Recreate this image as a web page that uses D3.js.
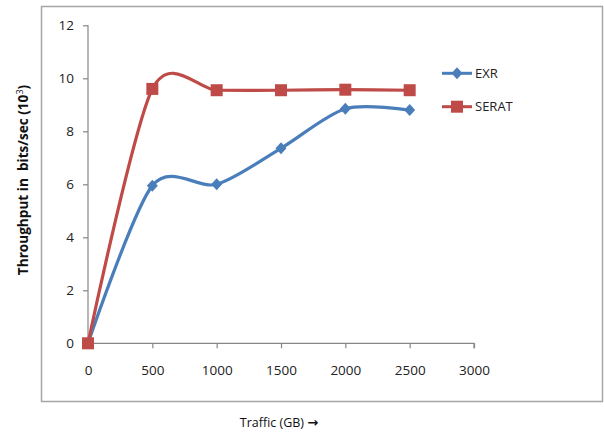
<!DOCTYPE html>
<html>
<head>
<meta charset="utf-8">
<script src="https://cdn.jsdelivr.net/npm/d3@7"></script>
<style>
  body { margin: 0; background: #fff; }
  svg { display: block; font-family: "Open Sans", sans-serif; }
</style>
</head>
<body>
<svg id="chart" width="604" height="436"></svg>
<script>
// Traffic levels (GB) and throughput (bits/sec, ×10³) per protocol
const traffic = [0, 500, 1000, 1500, 2000, 2500];
const exr = [0, 5.95, 6.0, 7.36, 8.85, 8.8];
const serat = [0, 9.6, 9.55, 9.55, 9.57, 9.55];
const xTicks = [0, 500, 1000, 1500, 2000, 2500, 3000];
const yTicks = [0, 2, 4, 6, 8, 10, 12];
const seriesNames = ["EXR", "SERAT"];

const svg = d3.select("#chart");
const blue = "#4a7ebb", red = "#be4b48";
const font = "'Open Sans', sans-serif";

// outer chart frame
svg.append("rect")
  .attr("x", 41.5).attr("y", 6.5).attr("width", 561).attr("height", 395)
  .attr("fill", "none").attr("stroke", "#a6a6a6").attr("stroke-width", 1.5);

const x = d3.scaleLinear().domain([0, 3000]).range([88, 474]);
const y = d3.scaleLinear().domain([0, 12]).range([343.3, 25.3]);

// y axis
const yAxis = svg.append("g").attr("transform", "translate(88,0)")
  .call(d3.axisLeft(y).tickValues(yTicks).tickFormat(d3.format("d")).tickSize(5).tickPadding(9));
// x axis
const xAxis = svg.append("g").attr("transform", `translate(0,${y(0)})`)
  .call(d3.axisBottom(x).tickValues(xTicks).tickFormat(d3.format("d")).tickSize(5).tickPadding(17));

[yAxis, xAxis].forEach(g => {
  g.select(".domain").attr("stroke", "#868686").attr("stroke-width", 1.2);
  g.selectAll(".tick line").attr("stroke", "#868686").attr("stroke-width", 1.2);
  g.selectAll(".tick text").attr("fill", "#222").attr("font-size", 13.5)
    .attr("font-family", font);
});
xAxis.select(".domain").attr("d", `M${x(0)},0H${x(3000)}V5`);
yAxis.select(".domain").attr("d", `M0,${y(12)}V${y(0)}`);

const line = d3.line()
  .x((d, i) => x(traffic[i]))
  .y(d => y(d))
  .curve(d3.curveCardinal.tension(0.15));

const series = [
  { name: seriesNames[0], values: exr, color: blue, shape: "diamond" },
  { name: seriesNames[1], values: serat, color: red, shape: "square" }
];

function marker(g, shape, color) {
  if (shape === "diamond") {
    g.append("path").attr("d", "M0,-6L5.5,0L0,6L-5.5,0Z").attr("fill", color);
  } else {
    g.append("rect").attr("x", -6).attr("y", -6).attr("width", 12).attr("height", 12)
      .attr("fill", color);
  }
}

series.forEach(s => {
  svg.append("path")
    .datum(s.values)
    .attr("d", line)
    .attr("fill", "none")
    .attr("stroke", s.color)
    .attr("stroke-width", 3.2);
});
series.forEach(s => {
  s.values.forEach((v, i) => {
    const g = svg.append("g").attr("transform", `translate(${x(traffic[i])},${y(v)})`);
    marker(g, s.shape, s.color);
  });
});

// legend
const legendY = [73.3, 106.7];
series.forEach((s, i) => {
  const g = svg.append("g").attr("transform", `translate(0,${legendY[i]})`);
  g.append("line").attr("x1", 442).attr("x2", 472).attr("y1", 0).attr("y2", 0)
    .attr("stroke", s.color).attr("stroke-width", 3);
  const m = g.append("g").attr("transform", "translate(457,0)");
  marker(m, s.shape, s.color);
  g.append("text").attr("x", 475).attr("y", 0).attr("dy", "0.36em")
    .attr("font-size", 13).attr("fill", "#222").text(s.name);
});

// axis titles
const yt = svg.append("text")
  .attr("transform", "translate(28,180) rotate(-90)")
  .attr("text-anchor", "middle")
  .attr("font-size", 13.6).attr("font-weight", "bold").attr("fill", "#111");
yt.append("tspan").text("Throughput in\u00a0\u00a0bits/sec (10");
yt.append("tspan").attr("dy", -5).attr("font-size", 9).attr("font-weight", "normal").text("3");
yt.append("tspan").attr("dy", 5).text(")");

const xt = svg.append("text")
  .attr("x", 279).attr("y", 427)
  .attr("text-anchor", "middle")
  .attr("font-size", 12.5).attr("fill", "#111");
xt.append("tspan").text("Traffic (GB) ");
xt.append("tspan").attr("font-family", "'DejaVu Sans', sans-serif")
  .attr("font-weight", "bold").attr("font-size", 13).text("\u2192");
</script>
</body>
</html>
